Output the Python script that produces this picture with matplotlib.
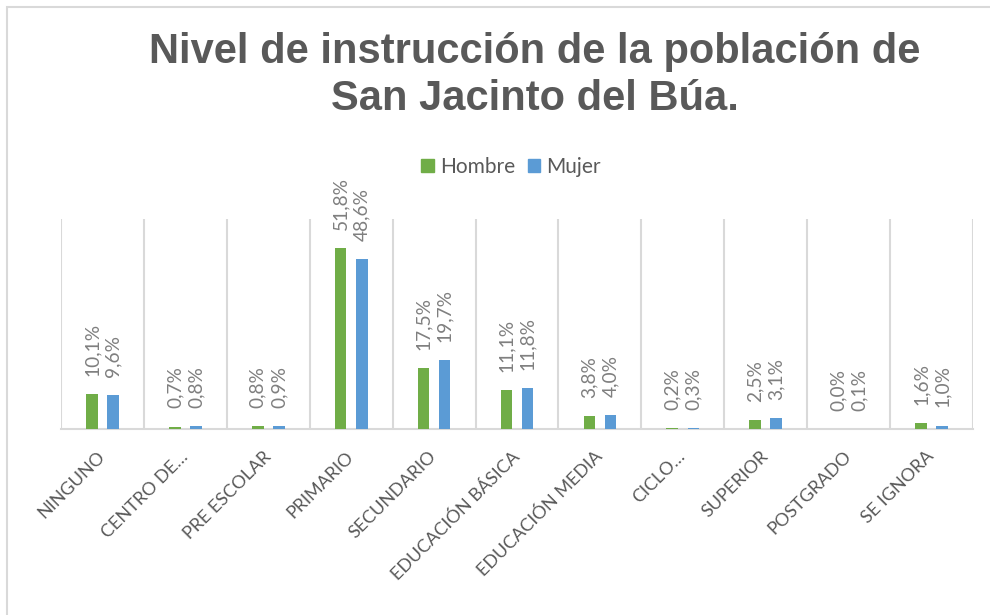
import numpy as np
import matplotlib.pyplot as plt
from matplotlib.patches import Rectangle, Patch

# data
categorias = ['NINGUNO', 'CENTRO DE…', 'PRE ESCOLAR', 'PRIMARIO', 'SECUNDARIO',
              'EDUCACIÓN BÁSICA', 'EDUCACIÓN MEDIA', 'CICLO…', 'SUPERIOR',
              'POSTGRADO', 'SE IGNORA']
hombre = [10.1, 0.7, 0.8, 51.8, 17.5, 11.1, 3.8, 0.2, 2.5, 0.0, 1.6]
mujer = [9.6, 0.8, 0.9, 48.6, 19.7, 11.8, 4.0, 0.3, 3.1, 0.1, 1.0]

verde = '#70AD47'
azul = '#5B9BD5'
gris_txt = '#595959'
gris_lbl = '#7F7F7F'
gris_lin = '#D9D9D9'

fig = plt.figure(figsize=(9.9, 6.15), dpi=100)
# chart border (only left/top visible in reference)
fig.patches.append(Rectangle((7 / 990, -0.1), 1.2, 1.1 - 7 / 615, transform=fig.transFigure,
                             fill=False, edgecolor=gris_lin, linewidth=1.5))

ax = fig.add_axes([61 / 990, 1 - 429 / 615, (973 - 61) / 990, (429 - 219) / 615])
x = np.arange(len(categorias))
w = 0.14
off = 0.127
b1 = ax.bar(x - off, hombre, w, color=verde, zorder=3)
b2 = ax.bar(x + off, mujer, w, color=azul, zorder=3)

def fmt(v):
    return f'{v:.1f}%'.replace('.', ',')

for bars, vals in ((b1, hombre), (b2, mujer)):
    for r, v in zip(bars, vals):
        ax.annotate(fmt(v), (r.get_x() + r.get_width() / 2, r.get_height()),
                    xytext=(0, 13), textcoords='offset points', rotation=90,
                    ha='center', va='bottom', fontsize=13.8, color=gris_lbl,
                    family='Lato')

ax.set_xlim(-0.5, len(categorias) - 0.5)
ax.set_ylim(0, 60)
ax.set_yticks([])
ax.set_xticks(x)
ax.set_xticklabels(categorias, rotation=45, ha='right', va='center',
                   rotation_mode='anchor', fontsize=13, color=gris_txt,
                   family='Lato')
ax.tick_params(axis='x', length=0, pad=18)
for s in ('top', 'left', 'right'):
    ax.spines[s].set_visible(False)
ax.spines['bottom'].set_color(gris_lin)
ax.spines['bottom'].set_linewidth(1.5)
for i in range(len(categorias) + 1):
    ax.axvline(i - 0.5, color=gris_lin, linewidth=1.5, zorder=1)

fig.text(535 / 990, 1 - 52 / 615, 'Nivel de instrucción de la población de',
         ha='center', va='center', fontsize=30, fontweight='bold', color=gris_txt,
         family='Liberation Sans')
fig.text(535 / 990, 1 - 99 / 615, 'San Jacinto del Búa.',
         ha='center', va='center', fontsize=30, fontweight='bold', color=gris_txt,
         family='Liberation Sans')

fig.legend(handles=[Patch(color=verde, label='Hombre'), Patch(color=azul, label='Mujer')],
           loc='center', bbox_to_anchor=(511 / 990, 1 - 167 / 615), ncol=2, frameon=False,
           prop={'family': 'Lato', 'size': 15}, labelcolor=gris_txt,
           handlelength=0.6, handleheight=0.6, handletextpad=0.3, columnspacing=0.6)

fig.savefig('out.png', dpi=100)
